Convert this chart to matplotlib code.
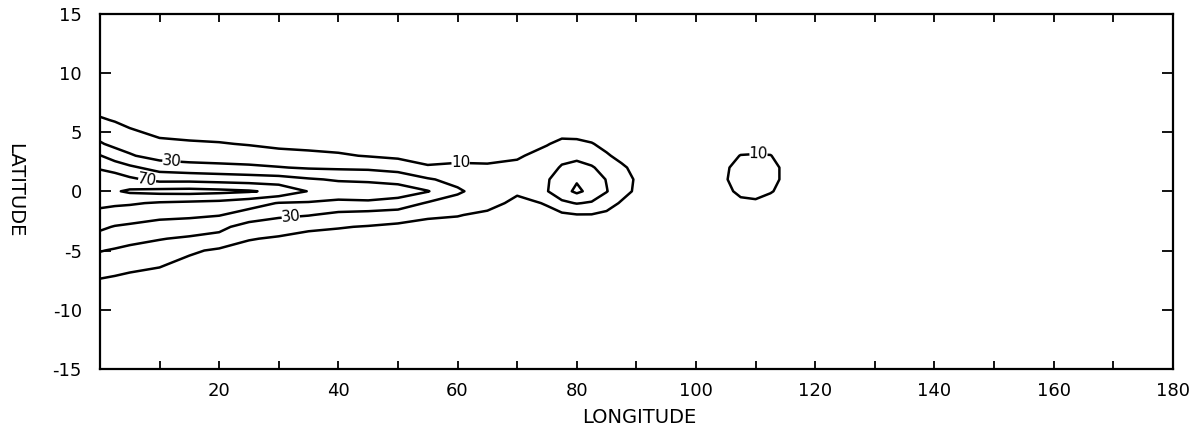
import matplotlib.pyplot as plt
import numpy as np

# contour field, one profile per longitude, values listed north -> south
longitude = [0, 2.5, 5, 10, 15, 20, 25, 30, 35, 40, 45, 50, 55, 60, 65, 70,
             72.5, 75, 77.5, 80, 82.5, 85, 87.5, 90, 95, 100,
             105, 107.5, 110, 112.5, 115, 120]
latitude = [8, 7, 6, 5, 4, 3, 2, 1, 0, -1, -2, -3, -4, -5, -6, -7, -8, -9]
profiles = [
    [2, 5, 12, 22, 32, 51, 68, 80, 86, 76, 62, 53, 44, 31, 22, 13, 5, 2],      # 0
    [2, 4, 9, 17, 25, 40, 62, 80, 88, 73, 61, 49, 40, 28, 20, 11, 4, 1],       # 2.5
    [1, 3, 6, 12, 22, 32, 54, 74, 93, 72, 59, 47, 36, 25, 16, 9, 3, 1],        # 5
    [0, 1, 3, 7, 13, 22, 42, 64, 96, 68, 54, 44, 31, 21, 13, 6, 2, 1],         # 10
    [0, 1, 2, 5, 12, 20, 38, 64, 97, 66, 53, 42, 27, 13, 6, 2, 1, 0],          # 15
    [0, 0, 1, 4, 11, 19, 36, 62, 95, 64, 51, 35, 24, 7, 3, 1, 0, 0],           # 20
    [0, 0, 1, 3, 9, 18, 34, 60, 92, 58, 42, 22, 11, 4, 1, 0, 0, 0],            # 25
    [0, 0, 0, 2, 6, 16, 31, 58, 85, 49, 34, 18, 8, 3, 1, 0, 0, 0],             # 30
    [0, 0, 0, 1, 5, 14, 28, 52, 69, 48, 31, 13, 5, 1, 0, 0, 0, 0],             # 35
    [0, 0, 0, 1, 4, 12, 27, 48, 62, 45, 25, 11, 4, 1, 0, 0, 0, 0],             # 40
    [0, 0, 0, 0, 2, 9, 26, 47, 60, 47, 22, 9, 3, 1, 0, 0, 0, 0],               # 45
    [0, 0, 0, 0, 1, 6, 22, 43, 60, 42, 20, 6, 2, 0, 0, 0, 0, 0],               # 50
    [0, 0, 0, 0, 0, 3, 12, 32, 51, 28, 13, 4, 1, 0, 0, 0, 0, 0],               # 55
    [0, 0, 0, 0, 1, 4, 14, 24, 33, 22, 11, 3, 0, 0, 0, 0, 0, 0],               # 60
    [0, 0, 0, 0, 1, 4, 13, 19, 20, 17, 6, 1, 0, 0, 0, 0, 0, 0],                # 65
    [0, 0, 0, 0, 2, 8, 14, 16, 13, 5, 1, 0, 0, 0, 0, 0, 0, 0],                 # 70
    [0, 0, 0, 1, 5, 12, 18, 22, 20, 7, 2, 0, 0, 0, 0, 0, 0, 0],                # 72.5
    [0, 0, 0, 2, 9, 16, 22, 28, 29, 12, 3, 0, 0, 0, 0, 0, 0, 0],               # 75
    [0, 0, 1, 5, 14, 24, 32, 40, 42, 26, 6, 1, 0, 0, 0, 0, 0, 0],              # 77.5
    [0, 0, 2, 4, 14, 24, 38, 48, 54, 31, 9, 2, 0, 0, 0, 0, 0, 0],              # 80
    [0, 0, 0, 2, 11, 20, 32, 42, 44, 28, 9, 2, 0, 0, 0, 0, 0, 0],              # 82.5
    [0, 0, 0, 1, 5, 12, 22, 29, 31, 18, 6, 1, 0, 0, 0, 0, 0, 0],               # 85
    [0, 0, 0, 0, 2, 5, 13, 18, 17, 8, 2, 0, 0, 0, 0, 0, 0, 0],                 # 87.5
    [0, 0, 0, 0, 1, 3, 5, 8, 7, 3, 1, 0, 0, 0, 0, 0, 0, 0],                    # 90
    [0, 0, 0, 0, 0, 1, 2, 3, 3, 1, 0, 0, 0, 0, 0, 0, 0, 0],                    # 95
    [0, 0, 0, 0, 0, 1, 2, 3, 3, 2, 1, 0, 0, 0, 0, 0, 0, 0],                    # 100
    [0, 0, 0, 0, 1, 5, 9, 9.5, 8, 4, 1, 0, 0, 0, 0, 0, 0, 0],                  # 105
    [0, 0, 0, 1, 3, 10.5, 13, 13.5, 12, 8, 2, 0, 0, 0, 0, 0, 0, 0],           # 107.5
    [0, 0, 0, 1, 4, 11, 14, 15, 13, 8.5, 2, 0, 0, 0, 0, 0, 0, 0],             # 110
    [0, 0, 0, 1, 3, 10.5, 13, 13, 11, 5, 1, 0, 0, 0, 0, 0, 0, 0],             # 112.5
    [0, 0, 0, 0, 1, 4, 8, 8, 6, 2, 0, 0, 0, 0, 0, 0, 0, 0],                    # 115
    [0, 0, 0, 0, 0, 1, 2, 2, 1, 0, 0, 0, 0, 0, 0, 0, 0, 0],                    # 120
]
levels = [10, 30, 50, 70, 90]
label_spots = [(12, 2.6), (8, 1.2), (60.5, 2.4), (32, -2.1), (110.5, 3.2)]

lat = np.array(latitude)[::-1]
z = np.array(profiles, dtype=float).T[::-1]

fig = plt.figure(figsize=(12, 4.38), dpi=100)
ax = fig.add_axes([0.0833, 0.1575, 0.894, 0.8116])

cs = ax.contour(longitude, lat, z, levels=levels, colors="black", linewidths=1.8)
ax.clabel(cs, manual=label_spots, inline=True, fmt="%d", fontsize=11,
          inline_spacing=4)

ax.set_xlim(0, 180)
ax.set_ylim(-15, 15)
ax.set_xticks(range(20, 181, 20))
ax.set_xticks(range(10, 180, 20), minor=True)
ax.set_yticks(range(-15, 16, 5))
ax.set_yticklabels([str(v) for v in range(-15, 16, 5)])
ax.tick_params(axis="x", which="both", direction="in", length=6, width=1.3,
               top=True, pad=9, labelsize=13)
ax.tick_params(axis="y", direction="in", length=8, width=1.3, right=True,
               pad=13, labelsize=13)
for sp in ax.spines.values():
    sp.set_linewidth(1.6)

fig.text(0.533, 0.046, "LONGITUDE", ha="center", va="center", fontsize=14)
fig.text(0.0125, 0.566, "LATITUDE", ha="center", va="center", fontsize=14,
         rotation=-90)

fig.savefig("out.png", dpi=100)
